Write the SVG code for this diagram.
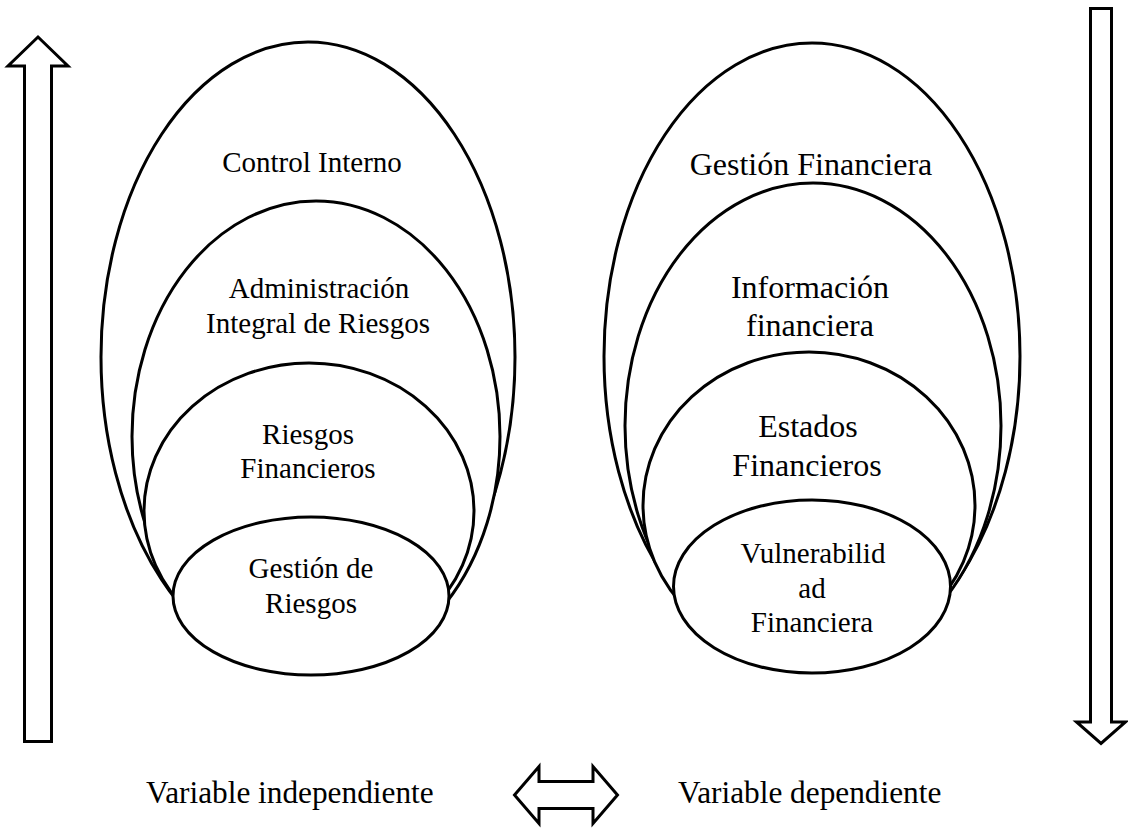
<svg xmlns="http://www.w3.org/2000/svg" width="1128" height="829" viewBox="0 0 1128 829">
<style>
.sh{fill:#fff;stroke:#000;stroke-width:3}
.ar{fill:#fff;stroke:#000;stroke-width:3;stroke-linejoin:miter}
text{font-family:'Liberation Serif','Times New Roman',serif;fill:#000;text-anchor:middle}
.l{font-size:29px}
.r{font-size:32px}
.b{font-size:31.3px;text-anchor:start}
</style>
<rect width="1128" height="829" fill="#fff"/>
<g id="left-group">
<g id="control-interno">
<ellipse class="sh" cx="308" cy="357" rx="207" ry="315"/>
<text class="l" x="312" y="172">Control Interno</text>
</g>
<g id="administracion-integral">
<ellipse class="sh" cx="316" cy="436.4" rx="184" ry="235.4"/>
<text class="l" x="319" y="298">Administración</text>
<text class="l" x="318" y="333">Integral de Riesgos</text>
</g>
<g id="riesgos-financieros">
<ellipse class="sh" cx="309" cy="511" rx="165" ry="148"/>
<text class="l" x="308" y="444">Riesgos</text>
<text class="l" x="308" y="478">Financieros</text>
</g>
<g id="gestion-riesgos">
<ellipse class="sh" cx="311" cy="596" rx="138" ry="79"/>
<text class="l" x="311" y="578">Gestión de</text>
<text class="l" x="311" y="613">Riesgos</text>
</g>
</g>
<g id="right-group">
<g id="gestion-financiera">
<ellipse class="sh" cx="812" cy="356.3" rx="208" ry="313.3"/>
<text class="r" x="811" y="175">Gestión Financiera</text>
</g>
<g id="informacion-financiera">
<ellipse class="sh" cx="813" cy="425.8" rx="188" ry="242.8"/>
<text class="r" x="810" y="298">Información</text>
<text class="r" x="810" y="336">financiera</text>
</g>
<g id="estados-financieros">
<ellipse class="sh" cx="809" cy="505.4" rx="166" ry="153.4"/>
<text class="r" x="808" y="437">Estados</text>
<text class="r" x="807" y="476">Financieros</text>
</g>
<g id="vulnerabilidad-financiera">
<ellipse class="sh" cx="812" cy="586.5" rx="138.5" ry="86.5"/>
<text class="l" x="813" y="563">Vulnerabilid</text>
<text class="l" x="812" y="598">ad</text>
<text class="l" x="812" y="632">Financiera</text>
</g>
</g>
<g id="connectors">
<polygon class="ar" points="38,37 68,66 51.5,66 51.5,741.5 24.5,741.5 24.5,66 8,66"/>
<polygon class="ar" points="1090.5,8.5 1111.5,8.5 1111.5,722 1125.5,722 1101,743.5 1076.5,722 1090.5,722"/>
<polygon class="ar" points="514.5,795 539,766.5 539,781.5 593,781.5 593,766.5 617.5,795 593,823.5 593,808.5 539,808.5 539,823.5"/>
</g>
<g id="labels">
<text class="b" x="146" y="803">Variable independiente</text>
<text class="b" x="678" y="803">Variable dependiente</text>
</g>
</svg>
